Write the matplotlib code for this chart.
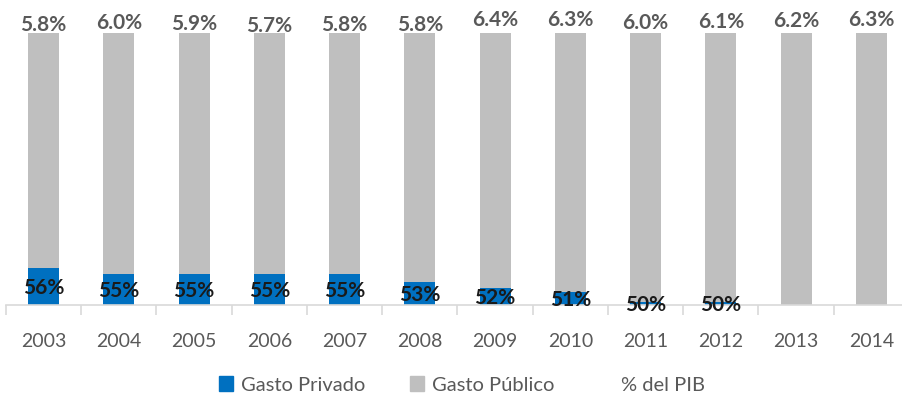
import numpy as np
import matplotlib
matplotlib.use("Agg")
import matplotlib.pyplot as plt
from matplotlib.patches import Patch
from matplotlib.lines import Line2D

plt.rcParams['font.family'] = ['Lato', 'DejaVu Sans']

anios = ['2003', '2004', '2005', '2006', '2007', '2008',
         '2009', '2010', '2011', '2012', '2013', '2014']
# participacion del gasto privado (%), sin dato para 2013-2014
privado = [56.0, 54.9, 54.9, 54.9, 54.9, 53.4, 52.2, 51.4, 49.6, 49.6, np.nan, np.nan]
# gasto total en salud como % del PIB
pib = [5.8, 6.0, 5.9, 5.7, 5.8, 5.8, 6.4, 6.3, 6.0, 6.1, 6.2, 6.3]

azul = '#0070c0'
gris = '#bfbfbf'
texto = '#595959'

priv = np.array(privado)
publico = 100 - np.nan_to_num(priv)
base = np.nan_to_num(priv)
x = np.arange(len(anios))

fig = plt.figure(figsize=(9.03, 4.0), dpi=100)
ax = fig.add_axes([6 / 903, 95 / 400, 903 / 903, 272 / 400])

ax.bar(x, base, width=0.41, color=azul, zorder=2)
ax.bar(x, publico, bottom=base, width=0.41, color=gris, zorder=2)

ax.set_xlim(-0.5, len(anios) - 0.5)
ax.set_ylim(49, 100)

for s in ['top', 'right', 'left']:
    ax.spines[s].set_visible(False)
ax.spines['bottom'].set_color('#d9d9d9')
ax.spines['bottom'].set_linewidth(1.2)
ax.set_yticks([])
ax.set_xticks(x)
ax.set_xticklabels(anios, fontsize=14, color=texto)
ax.tick_params(axis='x', which='major', length=0, pad=20)
ax.set_xticks(np.arange(-0.5, len(anios)), minor=True)
ax.tick_params(axis='x', which='minor', length=7, color='#d9d9d9', width=1.2)

# etiquetas de participacion privada
for i, v in enumerate(privado):
    if np.isnan(v):
        continue
    ax.annotate(f'{v:.0f}%', xy=(i, (49 + v) / 2), xytext=(0, -1),
                textcoords='offset points', ha='center', va='center',
                fontsize=15, fontweight='bold', color='#1a1a1a',
                annotation_clip=False, zorder=3)

# etiquetas % del PIB (serie invisible en eje secundario)
ax2 = ax.twinx()
ax2.set_ylim(-24.3, 4.95)
ax2.axis('off')
ax2.plot(x, pib, color='none')
for i, v in enumerate(pib):
    ax2.text(i, v, f'{v:.1f}%', ha='center', va='center', fontsize=15,
             fontweight='bold', color=texto, clip_on=False)

handles = [Patch(color=azul), Patch(color=gris), Line2D([], [], color='none')]
fig.legend(handles, ['Gasto Privado', 'Gasto Público', '% del PIB'],
           loc='center', bbox_to_anchor=(462 / 903, 1 - 385 / 400), ncol=3,
           frameon=False, fontsize=14.5, labelcolor=texto, handlelength=0.7,
           handleheight=0.7, handletextpad=0.4, columnspacing=2.2)

fig.savefig('out.png', dpi=100)
